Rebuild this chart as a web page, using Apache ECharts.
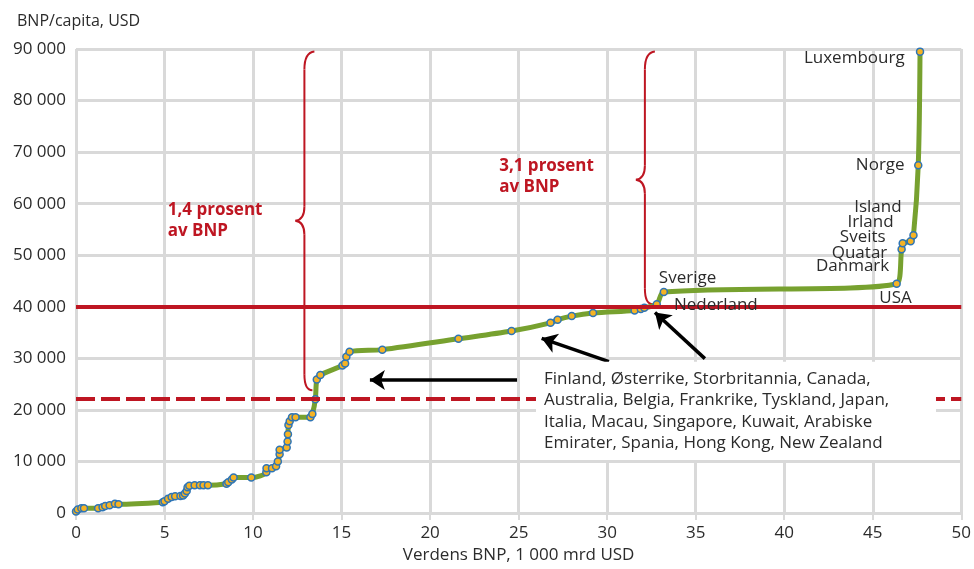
<!DOCTYPE html>
<html><head><meta charset="utf-8">
<script src="https://cdn.jsdelivr.net/npm/echarts@6/dist/echarts.min.js"></script>
<style>html,body{margin:0;padding:0;background:#fff}#c{width:974px;height:569px}</style>
</head><body><div id="c"></div>
<script>
// Cumulative world GDP (1 000 bn USD) and GDP per capita (USD), sorted by GDP per capita
const gdpCum = [0.0, 0.1, 0.3, 0.45, 1.25, 1.5, 1.65, 1.9, 2.2, 2.4,
  4.9, 5.0, 5.2, 5.4, 5.6, 5.9, 6.05, 6.15, 6.25, 6.3, 6.4, 6.7, 7.0, 7.2, 7.45,
  8.5, 8.6, 8.8, 8.9, 9.9,
  10.75, 10.76, 11.07, 11.3, 11.4, 11.5, 11.5, 11.9, 11.95, 11.97, 12.0, 12.07, 12.2, 12.4,
  13.24, 13.35, 13.52, 13.6, 13.8, 15.05, 15.2, 15.27, 15.45, 17.3,
  21.6, 24.6, 26.8, 27.2, 28.0, 29.2, 31.55, 31.9, 32.1, 32.8, 33.2,
  46.35, 46.63, 46.69, 47.14, 47.3, 47.57, 47.67];
const gdpPerCapita = [300, 700, 950, 950, 950, 1150, 1400, 1500, 1800, 1700,
  2100, 2300, 2800, 3100, 3250, 3300, 3400, 3800, 4300, 5000, 5300, 5400, 5400, 5400, 5400,
  5700, 6000, 6500, 6900, 6900,
  7900, 8700, 8700, 9100, 10000, 11400, 12300, 12700, 13900, 15300, 17100, 17800, 18600, 18600,
  18600, 19200, 22100, 25900, 26800, 28600, 29000, 30300, 31300, 31700,
  33800, 35300, 36900, 37500, 38200, 38800, 39300, 39600, 39800, 40500, 42860,
  44480, 51190, 52340, 52720, 53870, 67470, 89490];

const xTicks = {min: 0, max: 50, interval: 5};
const yTicks = {min: 0, max: 90000, interval: 10000};
const thresholdSolid = 40000;
const thresholdDashed = 22200;

// Annotation anchors in data coordinates
const braces = [ // [x, top, middle, bottom]
  [12.9, 89500, 56700, 23800],
  [32.13, 89500, 64650, 40500]
];
const arrows = [ // [fromX, fromY, toX, toY]
  [24.91, 25800, 16.6, 25800],
  [30.1, 29380, 26.3, 33900],
  [35.52, 29950, 32.7, 38900]
];
const countryNames = ['Luxembourg', 'Norge', 'Island', 'Irland', 'Sveits', 'Quatar', 'Danmark', 'USA', 'Sverige', 'Nederland'];
const countryLabelX = [46.8, 46.8, 46.63, 46.18, 45.73, 45.82, 45.93, 45.37, 32.92, 33.77];
const countryLabelY = [88280, 67520, 59420, 56490, 53490, 50420, 47870, 41670, 45500, 40270];
const countryAlign = ['right', 'right', 'right', 'right', 'right', 'right', 'right', 'left', 'left', 'left'];
const shareTexts = ['1,4 prosent\nav BNP', '3,1 prosent\nav BNP'];
const shareX = [5.18, 23.9];
const shareY = [56800, 65260];
const boxText = 'Finland, Østerrike, Storbritannia, Canada,\nAustralia, Belgia, Frankrike, Tyskland, Japan,\nItalia, Macau, Singapore, Kuwait, Arabiske\nEmirater, Spania, Hong Kong, New Zealand';
const boxAnchor = [25.98, 29360];

const RED = '#be1622';
const TXT = '#2b2b2b';
const FONT = '"Open Sans", "Noto Sans", sans-serif';

function fmt(v) { return String(v).replace(/\B(?=(\d{3})+(?!\d))/g, ' '); }

const curveData = gdpCum.map((x, i) => [x, gdpPerCapita[i]]);

const labelData = countryNames.map((n, i) => ({
  value: [countryLabelX[i], countryLabelY[i]],
  label: {show: true, formatter: n, position: 'inside', align: countryAlign[i], verticalAlign: 'middle',
    color: TXT, fontSize: 17, fontFamily: FONT}
}));
shareTexts.forEach((t, i) => labelData.push({
  value: [shareX[i], shareY[i]],
  label: {show: true, formatter: t, position: 'inside', align: 'left', verticalAlign: 'middle',
    color: RED, fontSize: 17, fontWeight: 'bold', lineHeight: 21, fontFamily: FONT}
}));
labelData.push({
  value: boxAnchor,
  label: {show: true, formatter: boxText, position: 'inside', align: 'left', verticalAlign: 'top',
    color: TXT, fontSize: 17, lineHeight: 21.3, fontFamily: FONT,
    backgroundColor: '#ffffff', padding: [7, 12, 6, 8], width: 380}
});

const chart = echarts.init(document.getElementById('c'), null, {renderer: 'canvas'});
chart.setOption({
  animation: false,
  backgroundColor: '#ffffff',
  title: {text: 'BNP/capita, USD', left: 12, top: 8,
    textStyle: {fontSize: 16, fontWeight: 'normal', color: TXT, fontFamily: FONT}},
  grid: {left: 76, right: 10, top: 49, bottom: 50, containLabel: false},
  xAxis: {
    type: 'value', min: xTicks.min, max: xTicks.max, interval: xTicks.interval,
    name: 'Verdens BNP, 1 000 mrd USD', nameLocation: 'middle', nameGap: 32,
    nameTextStyle: {fontSize: 17, color: TXT, fontFamily: FONT},
    axisLine: {show: true, lineStyle: {color: '#d9d9d9', width: 3}},
    axisTick: {show: true, length: 7, lineStyle: {color: '#d9d9d9', width: 2}},
    axisLabel: {fontSize: 17, color: TXT, margin: 12, fontFamily: FONT},
    splitLine: {show: true, lineStyle: {color: '#d9d9d9', width: 3}}
  },
  yAxis: {
    type: 'value', min: yTicks.min, max: yTicks.max, interval: yTicks.interval,
    axisLine: {show: false}, axisTick: {show: false},
    axisLabel: {fontSize: 17, color: TXT, margin: 10, fontFamily: FONT, formatter: fmt},
    splitLine: {show: true, lineStyle: {color: '#d9d9d9', width: 3}}
  },
  series: [
    {
      type: 'line', data: [], z: 1, silent: true,
      markLine: {
        silent: true, symbol: 'none', animation: false, label: {show: false},
        data: [
          {yAxis: thresholdSolid, lineStyle: {color: RED, width: 4, type: 'solid'}},
          {yAxis: thresholdDashed, lineStyle: {color: RED, width: 4, type: [19, 6]}}
        ]
      }
    },
    {
      type: 'custom', z: 2, silent: true,
      encode: {x: 0, y: [1, 2, 3]},
      data: braces,
      renderItem: function (params, api) {
        const xv = api.value(0);
        const t = api.coord([xv, api.value(1)]);
        const m = api.coord([xv, api.value(2)]);
        const b = api.coord([xv, api.value(3)]);
        const x = t[0], yT = t[1], yM = m[1], yB = b[1];
        const st = {stroke: RED, lineWidth: 2, fill: null};
        return {type: 'group', children: [
          {type: 'bezierCurve', shape: {x1: x + 10, y1: yT, x2: x, y2: yT + 18, cpx1: x, cpy1: yT + 1}, style: st},
          {type: 'line', shape: {x1: x, y1: yT + 18, x2: x, y2: yM - 14}, style: st},
          {type: 'bezierCurve', shape: {x1: x, y1: yM - 14, x2: x - 9, y2: yM, cpx1: x, cpy1: yM - 1}, style: st},
          {type: 'bezierCurve', shape: {x1: x - 9, y1: yM, x2: x, y2: yM + 14, cpx1: x, cpy1: yM + 1}, style: st},
          {type: 'line', shape: {x1: x, y1: yM + 14, x2: x, y2: yB - 16}, style: st},
          {type: 'bezierCurve', shape: {x1: x, y1: yB - 16, x2: x + 8, y2: yB, cpx1: x, cpy1: yB}, style: st}
        ]};
      }
    },
    {
      type: 'line', z: 3, data: curveData, smooth: 0.3,
      symbol: 'circle', symbolSize: 7, showSymbol: true, showAllSymbol: true,
      itemStyle: {color: '#f5b324', borderColor: '#2e75b6', borderWidth: 1.5},
      lineStyle: {color: '#77a12f', width: 5}
    },
    {
      type: 'line', data: [], z: 4, silent: true,
      markLine: {
        silent: true, symbol: ['none', 'arrow'], symbolSize: 15, animation: false, label: {show: false},
        lineStyle: {color: '#000000', width: 3.5, type: 'solid'},
        data: arrows.map(a => [{coord: [a[0], a[1]]}, {coord: [a[2], a[3]]}])
      }
    },
    {
      type: 'scatter', z: 5, silent: true, symbolSize: 0, itemStyle: {opacity: 1}, data: labelData
    }
  ]
});
</script>
</body></html>
